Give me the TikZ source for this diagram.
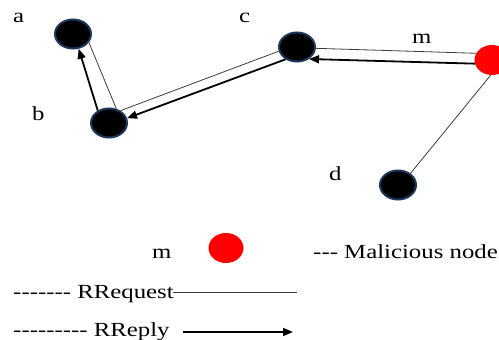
\documentclass[tikz,border=0pt]{standalone}
\usepackage{fontspec}
\setmainfont{Liberation Serif}
\usetikzlibrary{shapes.geometric,arrows.meta}
\newcommand\hy{\mbox{-}}
\begin{document}
\begin{tikzpicture}[x=1pt,y=-1pt,
  peer/.style={ellipse,minimum width=36pt,minimum height=29pt,inner sep=0pt,fill=black,draw={rgb,255:red,30;green,55;blue,95},line width=2pt},
  bad/.style={ellipse,minimum width=35pt,minimum height=30pt,inner sep=0pt,fill=red,draw=none},
  lbl/.style={anchor=base west,font=\fontsize{20}{24}\selectfont,xscale=1.24,inner sep=0pt,text=black},
  req/.style={draw={rgb,255:red,60;green,60;blue,60},line width=0.8pt},
  rep/.style={draw=black,line width=1.8pt,-{Triangle[length=10pt,width=8pt]}}]
\useasboundingbox (0,0) rectangle (499,340);
\node[peer] (a) at (73,34) {};
\node[peer] (b) at (109,123) {};
\node[peer] (c) at (297,47) {};
\node[peer] (d) at (398,185) {};
\node[bad] (m) at (492,60) {};
\node[bad] (mk) at (226,248) {};
\node[lbl] (la) at (13,23) {a};
\node[lbl] (lb) at (32,120) {b};
\node[lbl] (lc) at (239,23) {c};
\node[lbl] (lm) at (412,43) {m};
\node[lbl] (ld) at (329,180) {d};
\node[lbl] (lmk) at (152,258) {m};
\node[lbl] (t1) at (313,258) {\hy\hy\hy{} Malicious node};
\node[lbl] (t2) at (13,298) {\hy\hy\hy\hy\hy\hy\hy{} RRequest};
\node[lbl] (t3) at (13,336) {\hy\hy\hy\hy\hy\hy\hy\hy\hy{} RReply};
\draw[req] (a.-28) -- (b.63);
\draw[rep] (b.132) -- (a.-69);
\draw[req] (b.47) -- (c.193);
\draw[rep] (c.227) -- (b.15);
\draw[req] (c.-4) -- (m.157);
\draw[rep] (m.192) -- (c.-45);
\draw[req] (m.-95) -- (d.43);
\coordinate (r1) at (173,292);
\coordinate (r2) at (297,292);
\coordinate (p1) at (183,332);
\coordinate (p2) at (293,332);
\draw[req] (r1) -- (r2);
\draw[rep] (p1) -- (p2);
\end{tikzpicture}
\end{document}
